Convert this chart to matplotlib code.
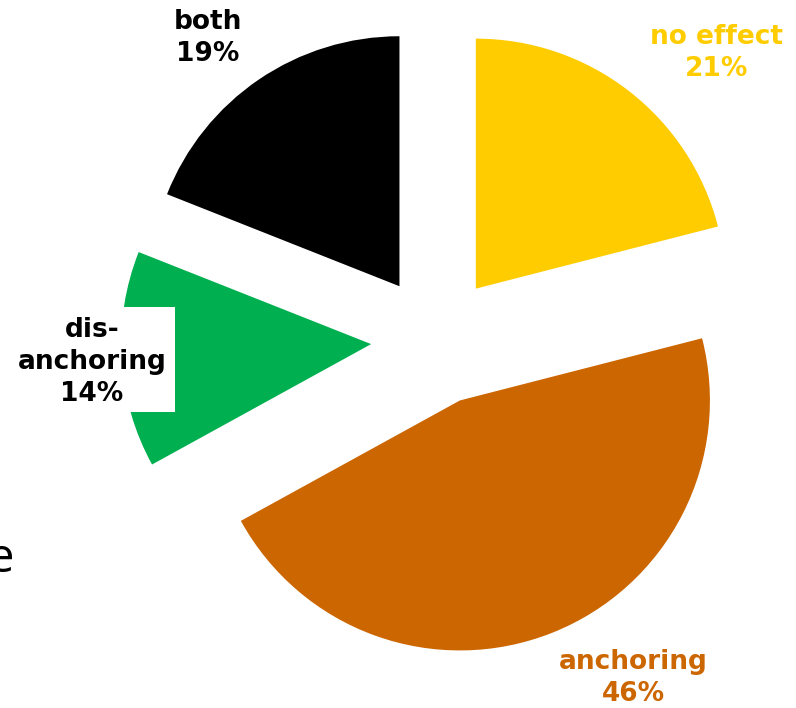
import matplotlib
matplotlib.use("Agg")
import matplotlib.pyplot as plt
from matplotlib.patches import Rectangle

categories = ["no effect", "anchoring", "dis-\nanchoring", "both"]
values = [21, 46, 14, 19]
colors = ["#FFCC00", "#CC6600", "#00B050", "#000000"]
label_colors = ["#FFCC00", "#CC6600", "#000000", "#000000"]

W, H = 796, 708
fig = plt.figure(figsize=(W / 100, H / 100), dpi=100)
ax = fig.add_axes([0, 0, 1, 1])

R = 250.0   # pie radius in pixels
CX, CY = 436.0, 340.0  # pie centre in pixels (from top-left)

def px(x, y):
    return ((x - CX) / R, (CY - y) / R)

ax.pie(values, colors=colors, startangle=90, counterclock=False,
       explode=[0.26] * len(values), radius=1, center=(0, 0),
       wedgeprops=dict(linewidth=0))

ax.set_xlim(-CX / R, (W - CX) / R)
ax.set_ylim(-(H - CY) / R, CY / R)
ax.set_aspect("equal", adjustable="datalim")
ax.axis("off")

# white box behind the dis-anchoring label
x0, y0 = px(-20, 412)
x1, y1 = px(175, 307)
ax.add_patch(Rectangle((x0, y0), x1 - x0, y1 - y0, facecolor="white",
                       edgecolor="none", zorder=3))

label_pos = [(717, 53), (633, 678), (92, 362), (208, 38)]
for cat, v, c, (lx, ly) in zip(categories, values, label_colors, label_pos):
    tx, ty = px(lx, ly)
    ax.text(tx, ty, f"{cat}\n{v}%", ha="center", va="center", color=c,
            fontsize=19, fontweight="bold", family="DejaVu Sans",
            linespacing=1.3, zorder=4)

# cropped slide text fragments
tx, ty = px(14, 559)
ax.text(tx, ty, "e", ha="right", va="center", fontsize=34,
        family="Open Sans", color="black", zorder=4)
tx, ty = px(798, 661)
ax.text(tx, ty, ":", ha="center", va="center", fontsize=11,
        color="black", zorder=4)

fig.savefig("out.png", dpi=100)
